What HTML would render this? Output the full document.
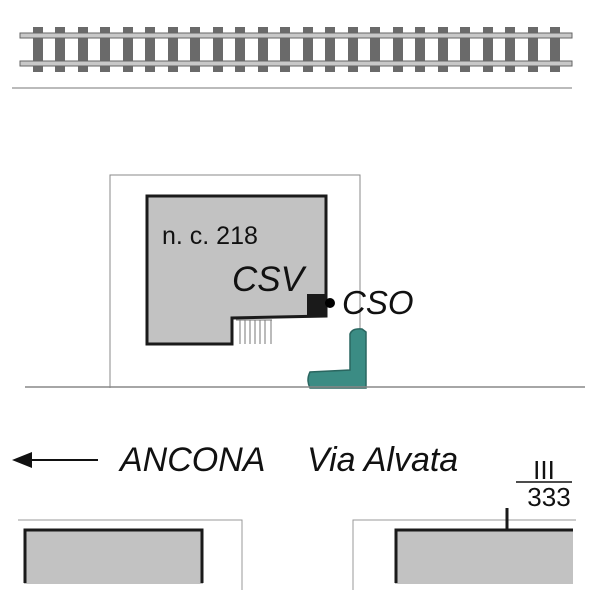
<!DOCTYPE html>
<html><head><style>body{margin:0;background:#fff}svg{display:block}</style></head><body>
<svg width="600" height="600" viewBox="0 0 600 600" xmlns="http://www.w3.org/2000/svg" font-family="Liberation Sans, sans-serif">
<g id="ties" fill="#6a6a6a">
<rect x="33" y="27" width="10" height="45"/><rect x="55" y="27" width="10" height="45"/><rect x="78" y="27" width="10" height="45"/><rect x="100" y="27" width="10" height="45"/><rect x="123" y="27" width="10" height="45"/><rect x="145" y="27" width="10" height="45"/><rect x="168" y="27" width="10" height="45"/><rect x="190" y="27" width="10" height="45"/><rect x="213" y="27" width="10" height="45"/><rect x="235" y="27" width="10" height="45"/><rect x="258" y="27" width="10" height="45"/><rect x="280" y="27" width="10" height="45"/><rect x="303" y="27" width="10" height="45"/><rect x="325" y="27" width="10" height="45"/><rect x="348" y="27" width="10" height="45"/><rect x="370" y="27" width="10" height="45"/><rect x="393" y="27" width="10" height="45"/><rect x="415" y="27" width="10" height="45"/><rect x="438" y="27" width="10" height="45"/><rect x="460" y="27" width="10" height="45"/><rect x="483" y="27" width="10" height="45"/><rect x="505" y="27" width="10" height="45"/><rect x="528" y="27" width="10" height="45"/><rect x="550" y="27" width="10" height="45"/>
</g>
<rect x="20" y="33" width="552" height="5" fill="#c8c8c8" stroke="#666" stroke-width="1"/>
<rect x="20" y="61" width="552" height="5" fill="#c8c8c8" stroke="#666" stroke-width="1"/>
<line x1="12" y1="88" x2="572" y2="88" stroke="#777" stroke-width="1"/>

<polyline points="110,388 110,175 360,175 360,388" fill="none" stroke="#888" stroke-width="1"/>
<polygon points="147,196 326,196 326,316 232,318 232,344 147,344" fill="#c2c2c2" stroke="#1a1a1a" stroke-width="3"/>
<rect x="307" y="294" width="18" height="22" fill="#1a1a1a"/>
<circle cx="330" cy="303" r="5" fill="#000"/>
<line x1="325" y1="303" x2="330" y2="303" stroke="#000" stroke-width="2"/>
<g stroke="#777" stroke-width="1">
<line x1="236" y1="320" x2="272" y2="320"/>
<line x1="240" y1="320" x2="240" y2="344"/><line x1="245" y1="320" x2="245" y2="344"/><line x1="250" y1="320" x2="250" y2="344"/><line x1="255" y1="320" x2="255" y2="344"/><line x1="260" y1="320" x2="260" y2="344"/><line x1="265" y1="320" x2="265" y2="344"/><line x1="271" y1="320" x2="271" y2="344"/>
</g>
<path d="M350,334 Q352,328 362,329 L366,332 L366,388 L310,388 Q306,380 310,372 L350,370 Z" fill="#3b8c84" stroke="#2a6660" stroke-width="1.5"/>
<line x1="25" y1="387" x2="585" y2="387" stroke="#888" stroke-width="1.5"/>

<text x="162" y="244" font-size="25" fill="#111">n. c. 218</text>
<text x="232" y="291" font-size="35" font-style="italic" fill="#111">CSV</text>
<text x="342" y="314" font-size="33" font-style="italic" fill="#111">CSO</text>

<line x1="22" y1="460" x2="98" y2="460" stroke="#111" stroke-width="2"/>
<polygon points="12,460 32,452 32,468" fill="#111"/>
<text x="120" y="471" font-size="34" font-style="italic" fill="#111">ANCONA</text>
<text x="307" y="471" font-size="34" font-style="italic" fill="#111">Via Alvata</text>

<text x="544" y="479" font-size="26" text-anchor="middle" fill="#111">III</text>
<line x1="516" y1="482" x2="572" y2="482" stroke="#111" stroke-width="1.5"/>
<text x="549" y="506" font-size="26" text-anchor="middle" fill="#111">333</text>

<polyline points="18,520 242,520 242,590" fill="none" stroke="#999" stroke-width="1"/>
<rect x="24" y="529" width="179" height="55" fill="#c2c2c2"/>
<polyline points="25,583 25,530 202,530 202,583" fill="none" stroke="#1a1a1a" stroke-width="3"/>

<polyline points="576,520 353,520 353,590" fill="none" stroke="#999" stroke-width="1"/>
<rect x="395" y="529" width="178" height="55" fill="#c2c2c2"/>
<polyline points="396,583 396,530 573,530" fill="none" stroke="#1a1a1a" stroke-width="3"/>
<line x1="507" y1="508" x2="507" y2="530" stroke="#1a1a1a" stroke-width="3"/>
</svg>
</body></html>
